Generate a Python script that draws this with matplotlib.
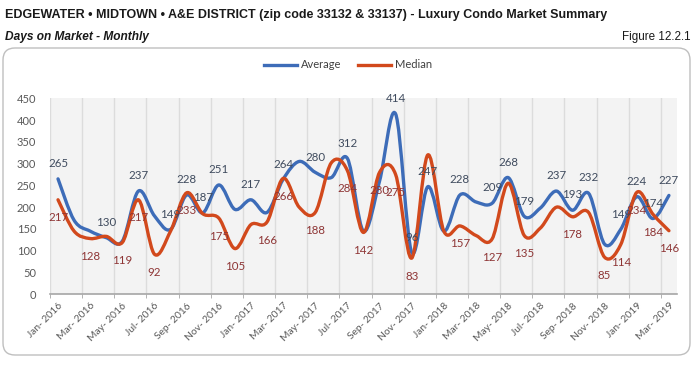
import numpy as np
import matplotlib
matplotlib.use("Agg")
import matplotlib.pyplot as plt
from matplotlib.path import Path
from matplotlib.patches import PathPatch, FancyBboxPatch
from matplotlib.lines import Line2D

# monthly values Jan-2016 .. Mar-2019
months = ["Jan", "Feb", "Mar", "Apr", "May", "Jun", "Jul", "Aug", "Sep", "Oct", "Nov", "Dec"]
month_labels = [f"{m}- {y}" for y in (2016, 2017, 2018) for m in months] + ["Jan- 2019", "Feb- 2019", "Mar- 2019"]

average = [265, 170, 145, 130, 122, 237, 180, 149, 228, 187,
           251, 195, 217, 188, 264, 305, 280, 268, 312, 145,
           260, 414, 96, 247, 145, 228, 212, 209, 268, 179,
           198, 237, 193, 232, 115, 149, 224, 174, 227]
median = [217, 145, 128, 133, 119, 217, 92, 145, 233, 185,
          175, 105, 160, 166, 266, 200, 188, 302, 284, 142,
          280, 275, 83, 320, 145, 157, 135, 127, 255, 135,
          152, 200, 178, 188, 85, 114, 234, 184, 146]

# which points carry a data label in the original
avg_labeled = [0, 3, 5, 7, 8, 9, 10, 12, 14, 16, 18, 21, 22, 23, 25, 27, 28, 29,
               31, 32, 33, 35, 36, 37, 38]
med_labeled = [0, 2, 4, 5, 6, 8, 10, 11, 13, 14, 16, 18, 19, 20, 21, 22, 25, 27,
               29, 32, 34, 35, 36, 37, 38]

BLUE = "#3D6CB8"
RED = "#D2491C"
BLUE_TXT = "#3F4B5E"
RED_TXT = "#8E3535"
GRAY = "#595959"
HEAD_FONT = ["Liberation Sans", "DejaVu Sans"]

plt.rcParams["font.family"] = ["Lato", "DejaVu Sans"]


def smooth_path(xs, ys):
    """Excel-style smoothed line as cubic bezier segments."""
    pts = np.column_stack([xs, ys]).astype(float)
    n = len(pts)
    verts = [pts[0]]
    codes = [Path.MOVETO]
    for i in range(n - 1):
        p0 = pts[max(i - 1, 0)]
        p1 = pts[i]
        p2 = pts[i + 1]
        p3 = pts[min(i + 2, n - 1)]
        c1 = p1 + (p2 - p0) / 6.0
        c2 = p2 - (p3 - p1) / 6.0
        verts += [c1, c2, p2]
        codes += [Path.CURVE4] * 3
    return Path(verts, codes)


fig = plt.figure(figsize=(7, 3.65), dpi=100)

# rounded frame around the chart (kept behind the axes)
frame = FancyBboxPatch((0.03, 0.10), 6.87, 3.07, boxstyle="round,pad=0,rounding_size=0.12",
                       transform=fig.dpi_scale_trans, facecolor="white",
                       edgecolor="#BFBFBF", lw=1.0, zorder=-5)
fig.patches.append(frame)

fig.text(0.007, 0.958, "EDGEWATER \u2022 MIDTOWN \u2022 A&E DISTRICT (zip code 33132 & 33137) - Luxury Condo Market Summary",
         fontsize=9.0, fontweight="bold", color="#1a1a1a", va="center", family=HEAD_FONT)
fig.text(0.007, 0.898, "Days on Market - Monthly", fontsize=8.6, fontweight="bold",
         style="italic", color="#1a1a1a", va="center", family=HEAD_FONT)
fig.text(0.986, 0.898, "Figure 12.2.1", fontsize=8.4, color="#1a1a1a", va="center", ha="right",
         family=HEAD_FONT)

ax = fig.add_axes([0.0714, 0.1937, 0.8957, 0.537])
ax.set_facecolor("#F3F3F3")
x = np.arange(len(average))

for vals, col in ((average, BLUE), (median, RED)):
    ax.add_patch(PathPatch(smooth_path(x, vals), fill=False, edgecolor=col,
                           lw=2.4, capstyle="round", joinstyle="round", zorder=3))

for i in avg_labeled:
    ax.annotate(str(average[i]), (x[i], average[i]), xytext=(0, 11), textcoords="offset points",
                ha="center", va="center", fontsize=8.3, color=BLUE_TXT, zorder=4)
for i in med_labeled:
    ax.annotate(str(median[i]), (x[i], median[i]), xytext=(0, -13), textcoords="offset points",
                ha="center", va="center", fontsize=8.3, color=RED_TXT, zorder=4)

ax.set_xlim(-0.5, len(average) - 0.5)
ax.set_ylim(0, 450)
ax.set_yticks(range(0, 451, 50))
ax.set_xticks(x[::2])
ax.set_xticklabels(month_labels[::2], rotation=45, ha="right", rotation_mode="anchor")
ax.set_xticks(np.arange(-0.5, len(average), 2), minor=True)
ax.tick_params(axis="x", which="major", length=0, pad=5, labelsize=7.4, labelcolor=GRAY)
ax.tick_params(axis="x", which="minor", length=3, color="#A6A6A6", direction="out")
ax.tick_params(axis="y", length=0, pad=10, labelsize=8, labelcolor=GRAY)
ax.grid(True, axis="x", which="minor", color="#DCDCDC", lw=1.0)
ax.set_axisbelow(True)
for side in ("top", "right", "left"):
    ax.spines[side].set_visible(False)
ax.spines["bottom"].set_color("#A6A6A6")
ax.spines["bottom"].set_linewidth(1.2)

handles = [Line2D([], [], color=BLUE, lw=2.4), Line2D([], [], color=RED, lw=2.4)]
fig.legend(handles, ["Average", "Median"], loc="center", bbox_to_anchor=(0.497, 0.822),
           ncol=2, frameon=False, fontsize=8, handlelength=3.0, columnspacing=1.5,
           handletextpad=0.3, labelcolor="#404040")

fig.savefig("out.png", dpi=100)
